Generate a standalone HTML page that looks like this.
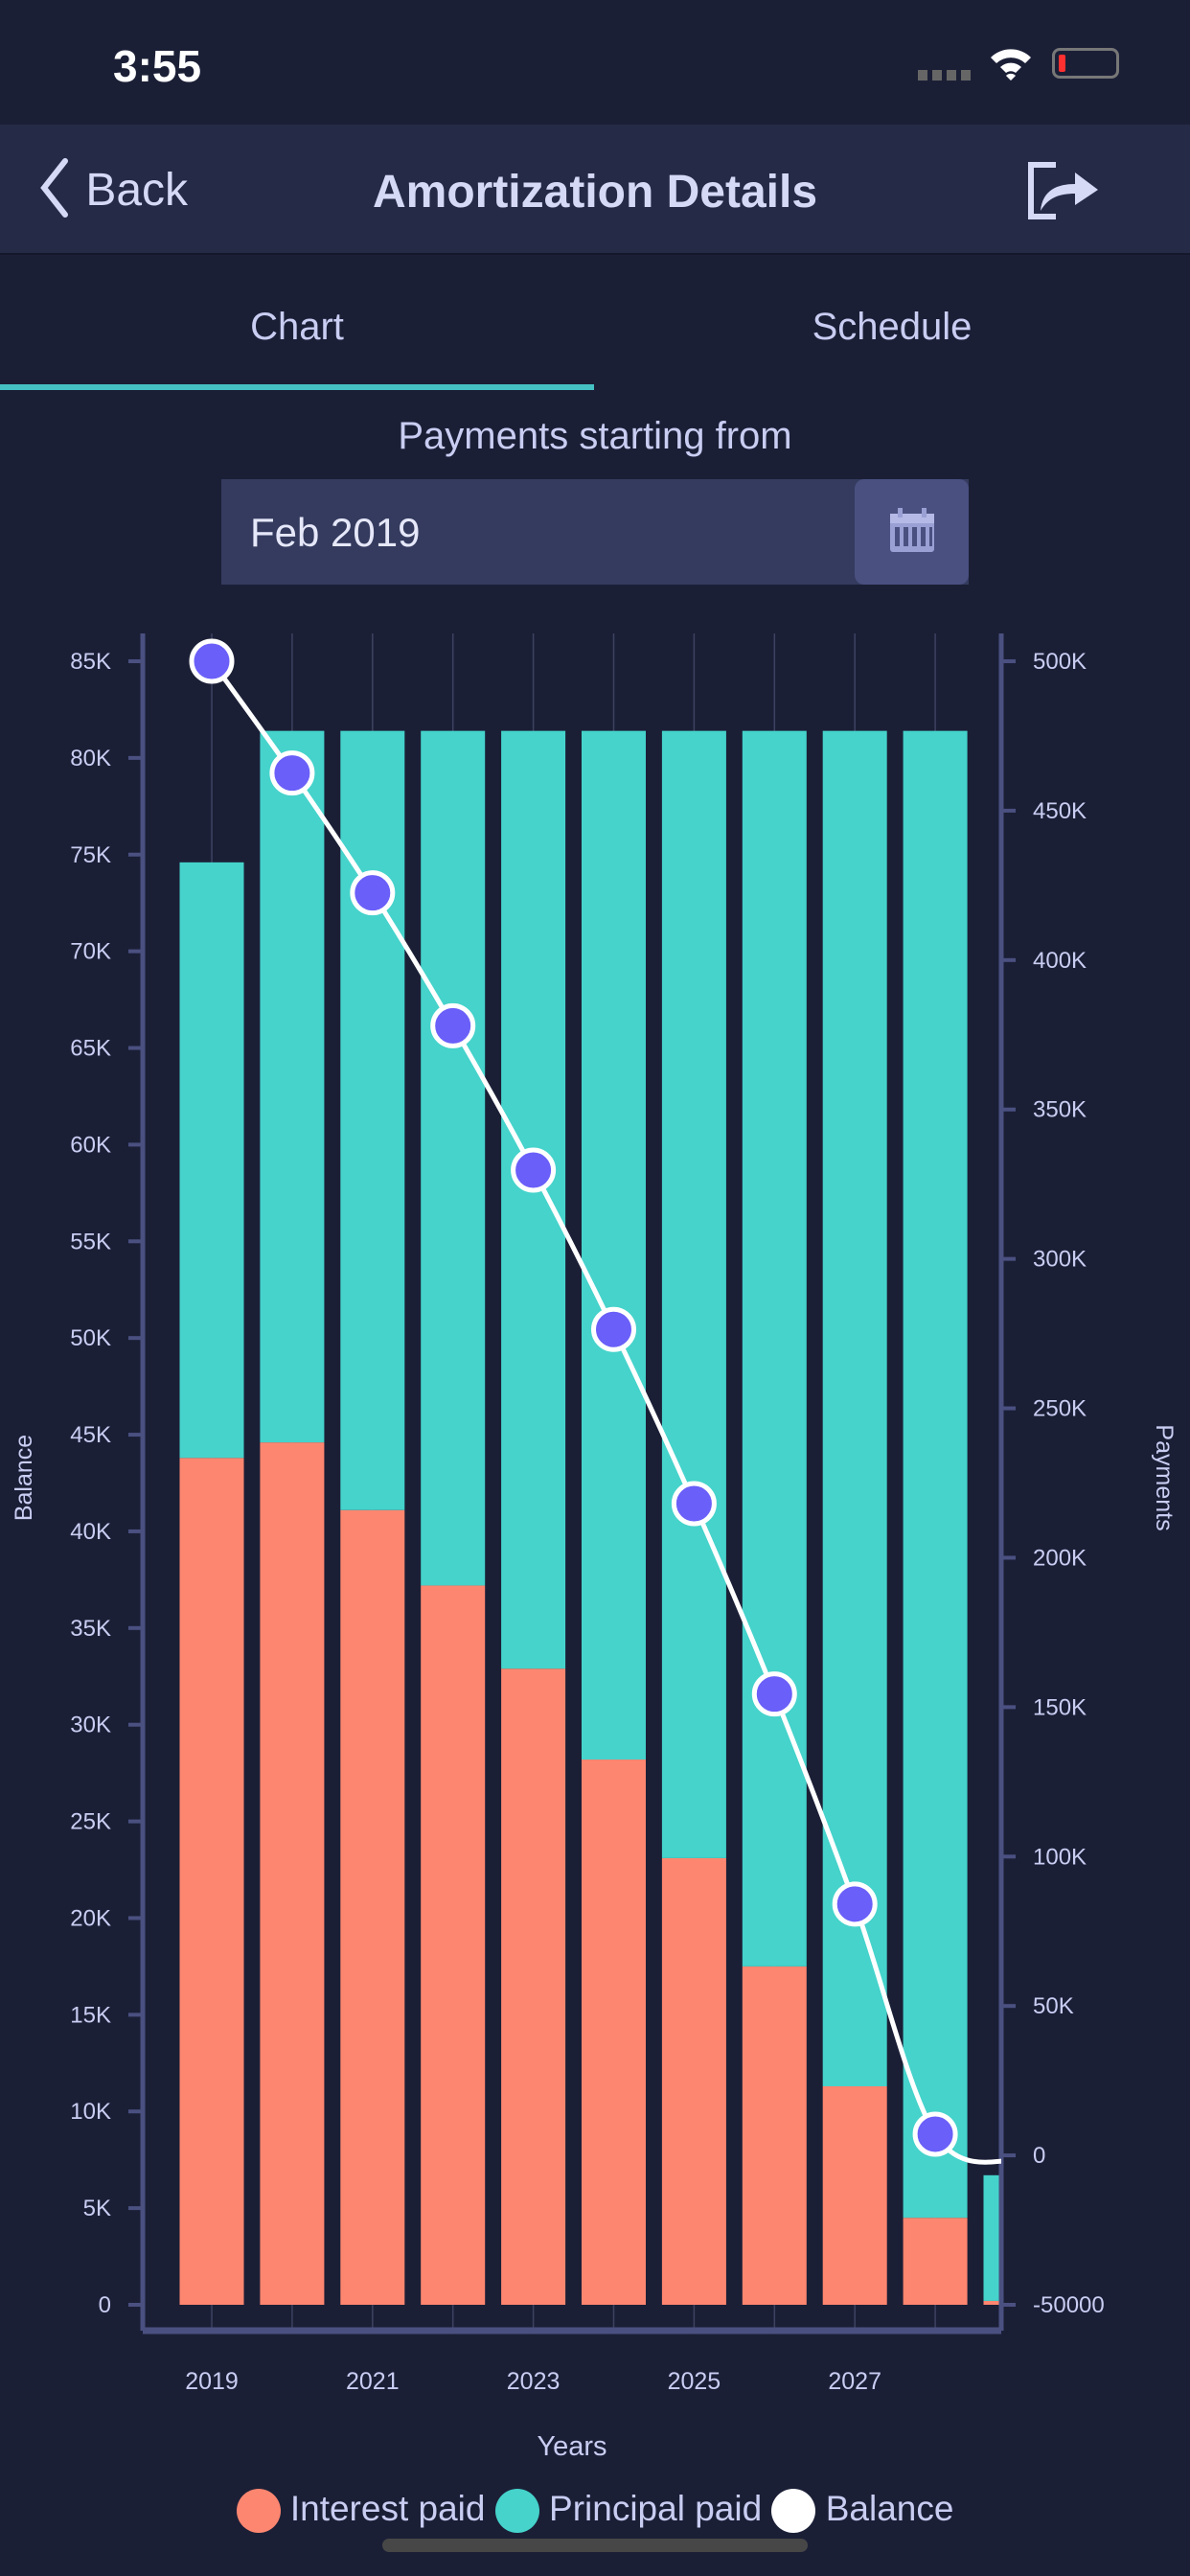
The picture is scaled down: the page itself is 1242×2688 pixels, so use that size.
<!DOCTYPE html>
<html><head><meta charset="utf-8">
<style>
body{margin:0;width:1242px;height:2688px;background:#1b1f36;font-family:"Liberation Sans",sans-serif;overflow:hidden;position:relative;color:#c9cdf2}
.abs{position:absolute}
</style></head>
<body>
<div class="abs" style="left:0;top:0;width:1242px;height:130px">
  <div class="abs" style="left:118px;top:42px;font-size:46px;font-weight:bold;color:#fff">3:55</div>
  <div class="abs" style="left:958px;top:73px;width:56px;height:11px;background:repeating-linear-gradient(90deg,#666 0 10px,transparent 10px 15px)"></div>
  <svg class="abs" style="left:1030px;top:46px" width="50" height="40" viewBox="0 0 50 40"><path d="M4 14 A30 30 0 0 1 46 14 L40 20 A22 22 0 0 0 10 20Z M14 24 A16 16 0 0 1 36 24 L30 30 A8 8 0 0 0 20 30Z M25 38 L20 33 A7 7 0 0 1 30 33Z" fill="#fff"/></svg>
  <div class="abs" style="left:1098px;top:50px;width:70px;height:32px;border:3px solid #777;border-radius:8px;box-sizing:border-box"><div style="position:absolute;left:4px;top:4px;width:7px;height:18px;background:#ff3030;border-radius:2px"></div></div>
</div>
<div class="abs" style="left:0;top:130px;width:1242px;height:134px;background:#252b47;border-bottom:2px solid #15182a">
  <div class="abs" style="left:36px;top:41px;font-size:48px;color:#d6d9f5">
    <svg width="40" height="64" style="vertical-align:middle;margin-top:-10px"><path d="M32 4 L10 32 L32 60" stroke="#d6d9f5" stroke-width="6" fill="none" stroke-linecap="round"/></svg> Back</div>
  <div class="abs" style="left:0;width:1242px;top:43px;text-align:center;font-size:48px;font-weight:bold;color:#d6d9f5">Amortization Details</div>
  <svg class="abs" style="left:1072px;top:38px" width="76" height="62"><path d="M30 4 H4 V58 H30" stroke="#d6d9f5" stroke-width="6" fill="none"/><path d="M14 52 C16 30 32 24 50 24 V12 L74 30 L50 46 V34 C34 34 22 38 14 52Z" fill="#d6d9f5"/></svg>
</div>
<div class="abs" style="left:0;width:620px;top:319px;text-align:center;font-size:40px">Chart</div>
<div class="abs" style="left:620px;width:622px;top:319px;text-align:center;font-size:40px">Schedule</div>
<div class="abs" style="left:0;top:401px;width:620px;height:6px;background:#45c1c4"></div>
<div class="abs" style="left:0;width:1242px;top:433px;text-align:center;font-size:40px">Payments starting from</div>
<div class="abs" style="left:231px;top:500px;width:780px;height:110px;background:#343b5e">
  <div class="abs" style="left:30px;top:32px;font-size:42px;color:#e6e8fa">Feb 2019</div>
  <div class="abs" style="left:661px;top:0;width:119px;height:110px;background:#4a5080;border-radius:10px">
    <svg style="position:absolute;left:35px;top:30px" width="50" height="48"><rect x="2" y="6" width="46" height="40" rx="3" fill="#9aa0d4"/><rect x="2" y="6" width="46" height="10" fill="#b4b9e6"/><g fill="#4a5080"><rect x="7" y="20" width="5" height="20"/><rect x="16" y="20" width="5" height="20"/><rect x="25" y="20" width="5" height="20"/><rect x="34" y="20" width="5" height="20"/><rect x="43" y="20" width="3" height="20"/></g><rect x="10" y="0" width="5" height="10" fill="#9aa0d4"/><rect x="35" y="0" width="5" height="10" fill="#9aa0d4"/></svg>
  </div>
</div>

<svg class="abs" id="chart" style="left:0;top:0" width="1242" height="2688"></svg>

<div class="abs" style="left:0;width:1242px;top:2597px;text-align:center;font-size:37px;white-space:nowrap">
  <span><span style="display:inline-block;width:46px;height:46px;border-radius:50%;background:#fd8670;vertical-align:middle"></span> Interest paid</span>
  <span><span style="display:inline-block;width:46px;height:46px;border-radius:50%;background:#45d3cb;vertical-align:middle"></span> Principal paid</span>
  <span><span style="display:inline-block;width:46px;height:46px;border-radius:50%;background:#fff;vertical-align:middle"></span> Balance</span>
</div>
<div class="abs" style="left:399px;top:2649px;width:444px;height:14px;border-radius:7px;background:#474747"></div>

<script>
const years=[2019,2020,2021,2022,2023,2024,2025,2026,2027,2028,2029];
const interestPaid=[43800,44600,41100,37200,32900,28200,23100,17500,11300,4500,200];
const principalPaid=[30800,36800,40300,44200,48500,53200,58300,63900,70100,76900,6500];
const balance=[500000,462600,422500,378000,329700,276400,218100,154400,84100,7100,-2000];
const leftTicks=[0,5000,10000,15000,20000,25000,30000,35000,40000,45000,50000,55000,60000,65000,70000,75000,80000,85000];
const leftTickLabels=["0","5K","10K","15K","20K","25K","30K","35K","40K","45K","50K","55K","60K","65K","70K","75K","80K","85K"];
const rightTicks=[-50000,0,50000,100000,150000,200000,250000,300000,350000,400000,450000,500000];
const rightTickLabels=["-50000","0","50K","100K","150K","200K","250K","300K","350K","400K","450K","500K"];
const xLabelYears=[2019,2021,2023,2025,2027];

const NS='http://www.w3.org/2000/svg';
const svg=document.getElementById('chart');
const L=149,R=1045,T=661,B=2432;
const yL=v=>2405-(v/85000)*(2405-690);
const yR=v=>2405-((v+50000)/550000)*(2405-690);
const xC=yr=>221+(yr-2019)*83.9;
const BW=67;
function mk(tag,attrs){const e=document.createElementNS(NS,tag);for(const k in attrs)e.setAttribute(k,attrs[k]);svg.appendChild(e);return e;}
const defs=mk('defs',{});
const cp=document.createElementNS(NS,'clipPath');cp.setAttribute('id','plotclip');
const cr=document.createElementNS(NS,'rect');cr.setAttribute('x',L);cr.setAttribute('y',T);cr.setAttribute('width',R-L);cr.setAttribute('height',B-T);
cp.appendChild(cr);defs.appendChild(cp);

years.slice(0,10).forEach(yr=>{
  const g=mk('line',{x1:xC(yr),x2:xC(yr),y1:T,y2:B,stroke:'#3d4260','stroke-width':1.5});
  
  
});
const barG=mk('g',{'clip-path':'url(#plotclip)'});
years.forEach((yr,i)=>{
  const x=xC(yr)-BW/2;
  const r1=document.createElementNS(NS,'rect');
  r1.setAttribute('x',x);r1.setAttribute('width',BW);
  r1.setAttribute('y',yL(interestPaid[i]));r1.setAttribute('height',yL(0)-yL(interestPaid[i]));
  r1.setAttribute('fill','#fd8670');
  
  
  barG.appendChild(r1);
  const top=interestPaid[i]+principalPaid[i];
  const r2=document.createElementNS(NS,'rect');
  r2.setAttribute('x',x);r2.setAttribute('width',BW);
  r2.setAttribute('y',yL(top));r2.setAttribute('height',yL(interestPaid[i])-yL(top));
  r2.setAttribute('fill','#45d3cb');
  
  
  barG.appendChild(r2);
});
const ax=mk('line',{x1:L,x2:L,y1:T,y2:B,stroke:'#4a5080','stroke-width':5});

const ax2=mk('line',{x1:R,x2:R,y1:T,y2:B,stroke:'#4a5080','stroke-width':5});

const ax3=mk('line',{x1:L,x2:R,y1:B,y2:B,stroke:'#4a5080','stroke-width':7});

leftTicks.forEach((v,i)=>{
  mk('line',{x1:L-15,x2:L,y1:yL(v),y2:yL(v),stroke:'#4a5080','stroke-width':4});
  const t=mk('text',{x:L-33,y:yL(v)+8,'text-anchor':'end','font-size':24,fill:'#c9cdf2','font-family':'Liberation Sans, sans-serif'});
  t.textContent=leftTickLabels[i];
  
  
});
rightTicks.forEach((v,i)=>{
  mk('line',{x1:R,x2:R+15,y1:yR(v),y2:yR(v),stroke:'#4a5080','stroke-width':4});
  const t=mk('text',{x:R+33,y:yR(v)+8,'text-anchor':'start','font-size':24,fill:'#c9cdf2','font-family':'Liberation Sans, sans-serif'});
  t.textContent=rightTickLabels[i];
  
  
});
xLabelYears.forEach(yr=>{
  const t=mk('text',{x:xC(yr),y:2493,'text-anchor':'middle','font-size':25,fill:'#c9cdf2','font-family':'Liberation Sans, sans-serif'});
  t.textContent=yr;
  
  
});
const xt=mk('text',{x:597,y:2562,'text-anchor':'middle','font-size':29,fill:'#c9cdf2','font-family':'Liberation Sans, sans-serif'});
xt.textContent='Years';
const ylt=mk('text',{x:0,y:0,'text-anchor':'middle','font-size':25,fill:'#c9cdf2','font-family':'Liberation Sans, sans-serif',transform:'translate(33,1542) rotate(-90)'});
ylt.textContent='Balance';
const yrt=mk('text',{x:0,y:0,'text-anchor':'middle','font-size':25,fill:'#c9cdf2','font-family':'Liberation Sans, sans-serif',transform:'translate(1207,1542) rotate(90)'});
yrt.textContent='Payments';

const pts=years.map((yr,i)=>[xC(yr),yR(balance[i])]);
let d='M'+pts[0][0]+','+pts[0][1];
for(let i=0;i<pts.length-1;i++){
  const p0=pts[Math.max(0,i-1)],p1=pts[i],p2=pts[i+1],p3=pts[Math.min(pts.length-1,i+2)];
  const c1=[p1[0]+(p2[0]-p0[0])/6,p1[1]+(p2[1]-p0[1])/6];
  const c2=[p2[0]-(p3[0]-p1[0])/6,p2[1]-(p3[1]-p1[1])/6];
  d+=' C'+c1+' '+c2+' '+p2;
}
const line=mk('path',{d:d,fill:'none',stroke:'#fff','stroke-width':5,'clip-path':'url(#plotclip)'});


pts.slice(0,10).forEach((p,i)=>{
  const c=mk('circle',{cx:p[0],cy:p[1],r:21,fill:'#6a5ff8',stroke:'#fff','stroke-width':5});
  
  
});
</script>
</body></html>
